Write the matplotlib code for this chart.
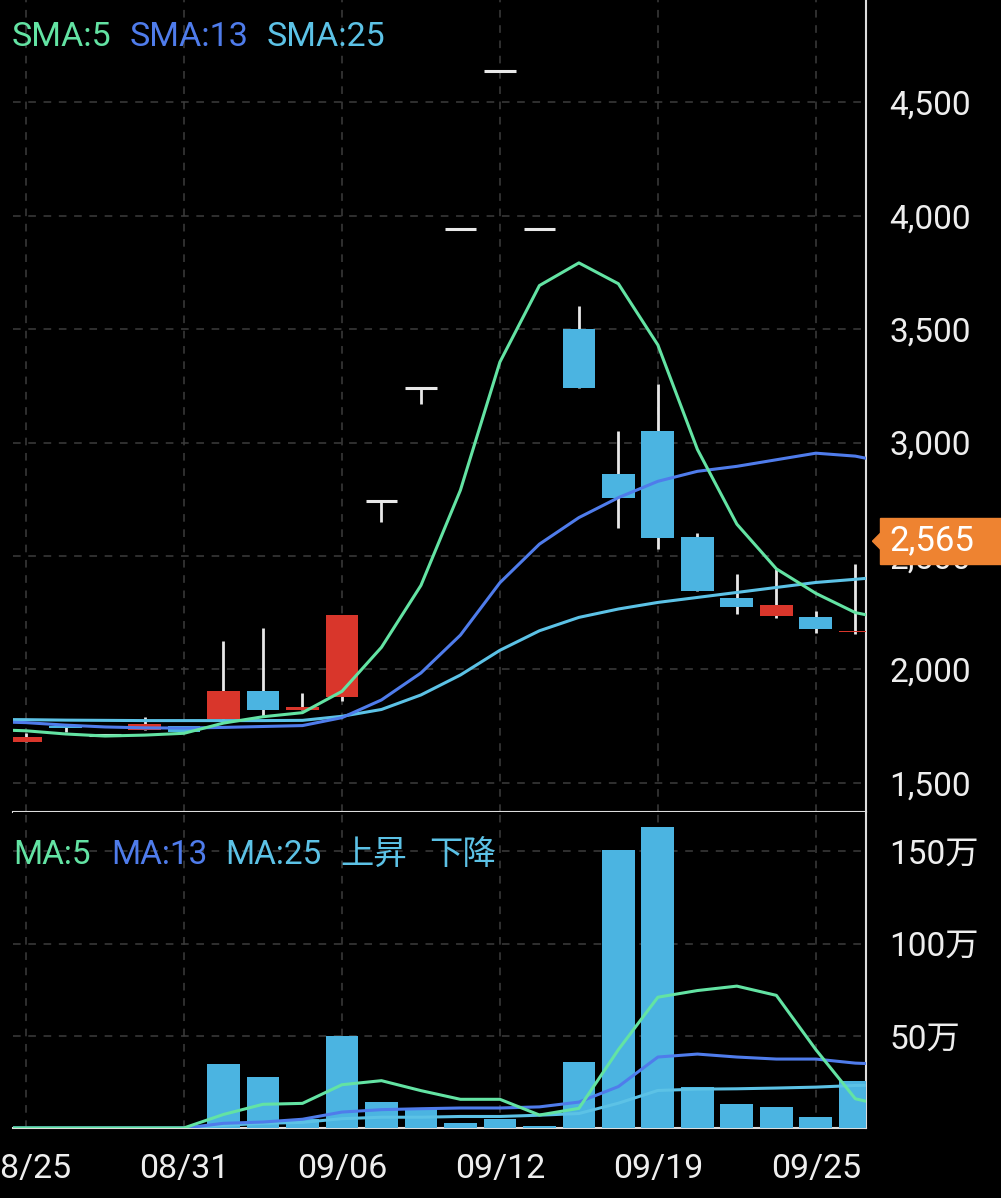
import matplotlib
matplotlib.use('Agg')
import matplotlib.pyplot as plt
import matplotlib.transforms as mtransforms
from matplotlib.patches import Polygon, Rectangle
import numpy as np

plt.rcParams['font.family'] = ['Roboto', 'Noto Sans CJK JP', 'DejaVu Sans']

# trading days shown on the chart
dates = ['08/25', '08/28', '08/29', '08/30', '08/31', '09/01', '09/04', '09/05',
         '09/06', '09/07', '09/08', '09/11', '09/12', '09/13', '09/14', '09/15',
         '09/19', '09/20', '09/21', '09/22', '09/25', '09/26']

opens = [1680, 1748, 1710, 1733, 1750, 1781, 1905, 1821, 1880, 2740, 3240,
         3940, 4640, 3940, 3500, 2860, 3050, 2585, 2316, 2236, 2231, 2163]
closes = [1700, 1740, 1710, 1757, 1722, 1905, 1821, 1835, 2240, 2740, 3240,
          3940, 4640, 3940, 3240, 2756, 2580, 2344, 2276, 2283, 2177, 2170]
highs = [1718, 1760, 1710, 1790, 1750, 2124, 2182, 1896, 2240, 2740, 3240,
         3940, 4640, 3940, 3600, 3050, 3257, 2600, 2421, 2442, 2257, 2465]
lows = [1680, 1725, 1710, 1733, 1722, 1781, 1791, 1821, 1860, 2650, 3170,
        3940, 4640, 3940, 3240, 2622, 2530, 2344, 2242, 2228, 2159, 2155]

# volume in 万 shares
volume = [0.2, 0.3, 0.2, 0.3, 0.2, 34.8, 28.0, 5.0, 50.0, 14.1, 11.2,
          2.7, 4.9, 1.4, 35.9, 150.7, 163.0, 22.3, 13.2, 11.4, 6.3, 25.4]

# moving averages (first value = day before 08/25,
# last value = day after 09/26, both only partly visible)
sma5 = [1735, 1729, 1715, 1706, 1710, 1718, 1763, 1791, 1809, 1903, 2097, 2370,
        2790, 3355, 3692, 3792, 3700, 3430, 2970, 2640, 2443, 2335, 2250, 2215]
sma13 = [1770, 1765, 1754, 1746, 1742, 1741, 1744, 1748, 1752, 1787, 1865, 1984,
         2151, 2382, 2552, 2669, 2757, 2829, 2873, 2895, 2924, 2953, 2940, 2905]
sma25 = [1779, 1778, 1776, 1775, 1774, 1774, 1774, 1774, 1775, 1793, 1823, 1887,
         1975, 2084, 2170, 2229, 2266, 2295, 2317, 2339, 2361, 2383, 2397, 2412]

vol_ma5 = [0.2, 0.2, 0.2, 0.2, 0.2, 0.2, 7.5, 13.0, 13.5, 23.6, 25.8, 20.4, 15.7,
           15.7, 7.2, 10.8, 42.6, 71.0, 74.6, 77.0, 72.0, 42.6, 16.0, 11.0]
vol_ma13 = [0.1, 0.1, 0.1, 0.1, 0.1, 0.1, 2.7, 3.4, 4.9, 8.8, 10.1, 10.6, 11.0,
            11.0, 11.6, 14.2, 22.6, 38.6, 40.2, 38.6, 37.5, 37.5, 35.3, 34.5]
vol_ma25 = [0.1, 0.1, 0.1, 0.1, 0.1, 0.1, 1.6, 2.7, 3.2, 5.2, 6.0, 6.0, 6.4,
            6.4, 7.1, 8.0, 13.6, 20.5, 21.2, 21.4, 21.8, 22.3, 23.2, 23.5]

last_price = 2565
price_ticks = [1500, 2000, 2500, 3000, 3500, 4000, 4500]
vol_ticks = [50, 100, 150]
date_ticks = [0, 4, 8, 12, 16, 20]

GREEN = '#63e3a3'
BLUE = '#4f7ceb'
CYAN = '#5cc2e6'
UP = '#d9362b'
DOWN = '#4bb4e1'
WICK = '#e8e8e8'
GRID = '#3d3d3d'
TEXT = '#eeeeee'
ORANGE = '#ee8331'


def style_axes(ax):
    ax.set_facecolor('black')
    for side in ['left', 'top']:
        ax.spines[side].set_visible(False)
    for side in ['right', 'bottom']:
        ax.spines[side].set_color('#dddddd')
        ax.spines[side].set_linewidth(1.5)
    ax.yaxis.tick_right()
    ax.tick_params(axis='y', length=0, pad=17, labelsize=24, labelcolor=TEXT)
    ax.tick_params(axis='x', length=0)
    ax.grid(True, color=GRID, linestyle=(0, (5, 5)), linewidth=1.1)
    ax.set_axisbelow(True)
    ax.set_xlim(-0.33, 21.27)
    ax.set_xticks(date_ticks)


def main():
    fig = plt.figure(figsize=(10.01, 11.98), dpi=100, facecolor='black')
    ax = fig.add_axes([13 / 1001, 386 / 1198, 853 / 1001, 812 / 1198])
    axv = fig.add_axes([13 / 1001, 69.7 / 1198, 853 / 1001, 316.3 / 1198])

    x = np.arange(len(dates))
    ma_x = np.arange(-1, len(dates) + 1)
    width = 0.83

    # price panel
    style_axes(ax)
    ax.set_ylim(1371, 4951)
    ax.set_yticks(price_ticks)
    ax.set_yticklabels([f'{p:,}' for p in price_ticks])
    ax.set_xticklabels([])

    for i in range(len(dates)):
        o, c, h, l = opens[i], closes[i], highs[i], lows[i]
        if h > l:
            ax.vlines(x[i], l, h, color=WICK, linewidth=2, zorder=2)
        if c == o:
            ax.hlines(o, x[i] - width / 2 + 0.02, x[i] + width / 2 - 0.02,
                      color=WICK, linewidth=2.2, zorder=3)
        else:
            col = UP if c > o else DOWN
            ax.bar(x[i], max(abs(c - o), 6), bottom=min(o, c), width=width,
                   color=col, zorder=3)

    ax.plot(ma_x, sma25, color=CYAN, linewidth=2.2, zorder=4)
    ax.plot(ma_x, sma13, color=BLUE, linewidth=2.2, zorder=4)
    ax.plot(ma_x, sma5, color=GREEN, linewidth=2.2, zorder=4)

    # current price marker
    trans = mtransforms.blended_transform_factory(fig.transFigure, ax.transData)
    px = 4.409
    box = Rectangle((880 / 1001, last_price - 23 * px), 121 / 1001, 46 * px,
                    transform=trans, color=ORANGE, clip_on=False, zorder=10)
    tri = Polygon([(872.5 / 1001, last_price), (880.5 / 1001, last_price + 8 * px),
                   (880.5 / 1001, last_price - 8 * px)],
                  closed=True, transform=trans, color=ORANGE, clip_on=False,
                  zorder=10)
    ax.add_patch(box)
    ax.add_patch(tri)
    ax.text(889 / 1001, last_price, f'{last_price:,}', transform=trans,
            color='white', fontsize=25, va='center', ha='left', zorder=11,
            clip_on=False)

    # volume panel
    style_axes(axv)
    axv.set_ylim(0, 171.3)
    axv.set_yticks(vol_ticks)
    axv.set_yticklabels([f'{v}万' for v in vol_ticks])
    axv.set_xticklabels([dates[i] for i in date_ticks])
    axv.tick_params(axis='x', pad=18, labelsize=24.5, labelcolor=TEXT)

    axv.bar(x, volume, width=width, color=DOWN, zorder=3)
    axv.plot(ma_x, vol_ma25, color=CYAN, linewidth=2.2, zorder=4)
    axv.plot(ma_x, vol_ma13, color=BLUE, linewidth=2.2, zorder=4)
    axv.plot(ma_x, vol_ma5, color=GREEN, linewidth=2.2, zorder=4)

    # legends
    for label, xpos, col in [('SMA:5', 12, GREEN), ('SMA:13', 130, BLUE),
                             ('SMA:25', 267, CYAN)]:
        fig.text(xpos / 1001, 1 - 37 / 1198, label, color=col, fontsize=24.5,
                 va='center', ha='left')
    for label, xpos, col in [('MA:5', 13, GREEN), ('MA:13', 111, BLUE),
                             ('MA:25', 225, CYAN), ('上昇', 340, CYAN),
                             ('下降', 429, CYAN)]:
        fig.text(xpos / 1001, 1 - 855 / 1198, label, color=col, fontsize=24,
                 va='center', ha='left')

    fig.savefig('out.png', dpi=100, facecolor='black')


if __name__ == '__main__':
    main()
